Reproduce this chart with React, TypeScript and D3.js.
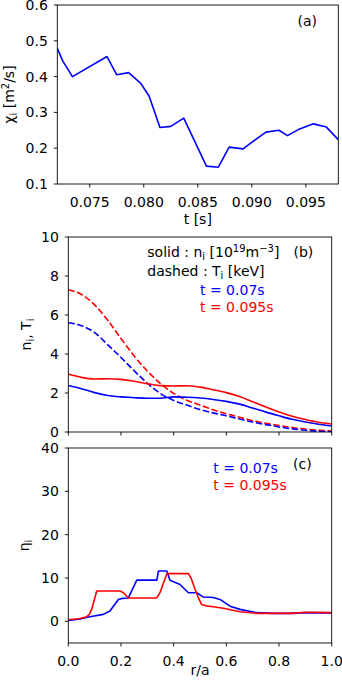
import React from 'react';
import * as d3 from 'd3';

// panel (a): chi_i vs time
const tA = [0.072, 0.0725, 0.0734, 0.0766, 0.0775, 0.0786, 0.0797, 0.0805, 0.0815, 0.0825, 0.0837, 0.0858, 0.0869, 0.0879, 0.0892, 0.0898, 0.0913, 0.0925, 0.0933, 0.0943, 0.0957, 0.0969, 0.098];
const chiA = [0.479, 0.444, 0.4, 0.456, 0.405, 0.411, 0.382, 0.345, 0.258, 0.261, 0.284, 0.15, 0.147, 0.203, 0.198, 0.212, 0.245, 0.25, 0.235, 0.252, 0.268, 0.259, 0.224];

// panel (b): profiles vs r/a
const rB = [0, 0.05, 0.1, 0.15, 0.2, 0.25, 0.3, 0.35, 0.4, 0.45, 0.5, 0.55, 0.6, 0.65, 0.7, 0.75, 0.8, 0.85, 0.9, 0.95, 1.0];
const niEarly = [2.38, 2.22, 2.02, 1.87, 1.8, 1.76, 1.73, 1.73, 1.8, 1.78, 1.74, 1.67, 1.57, 1.43, 1.23, 1.02, 0.83, 0.65, 0.51, 0.4, 0.31];
const niLate = [2.97, 2.8, 2.72, 2.73, 2.7, 2.6, 2.48, 2.38, 2.36, 2.37, 2.3, 2.17, 2.02, 1.82, 1.55, 1.28, 1.03, 0.81, 0.64, 0.5, 0.41];
const tiEarly = [5.6, 5.45, 5.1, 4.47, 3.82, 3.14, 2.5, 1.97, 1.62, 1.38, 1.15, 0.98, 0.83, 0.67, 0.51, 0.38, 0.26, 0.16, 0.09, 0.04, 0.01];
const tiLate = [7.3, 7.05, 6.52, 5.72, 4.8, 3.9, 3.13, 2.48, 1.98, 1.63, 1.38, 1.14, 0.93, 0.76, 0.58, 0.45, 0.33, 0.23, 0.15, 0.09, 0.05];

// panel (c): eta_i vs r/a
const rEtaEarly = [0, 0.04, 0.082, 0.133, 0.158, 0.19, 0.205, 0.228, 0.26, 0.336, 0.342, 0.374, 0.386, 0.424, 0.456, 0.487, 0.513, 0.55, 0.576, 0.614, 0.652, 0.715, 0.78, 0.85, 0.9, 1.0];
const etaEarly = [0.2, 0.5, 1.07, 1.6, 2.4, 5.06, 5.3, 5.4, 9.5, 9.5, 11.6, 11.6, 9.5, 8.5, 6.6, 6.6, 5.6, 5.5, 5.06, 3.5, 2.76, 2.0, 1.84, 1.84, 2.0, 1.95];
const rEtaLate = [0, 0.04, 0.07, 0.08, 0.089, 0.108, 0.196, 0.21, 0.228, 0.336, 0.348, 0.374, 0.456, 0.466, 0.481, 0.494, 0.506, 0.53, 0.55, 0.589, 0.652, 0.715, 0.842, 0.905, 1.0];
const etaLate = [0.38, 0.6, 1.07, 1.6, 2.8, 7.0, 7.0, 6.6, 5.4, 5.4, 6.6, 11.0, 11.0, 10.0, 7.4, 5.4, 3.9, 3.5, 3.37, 3.0, 2.2, 1.84, 1.84, 2.1, 2.0];

const ticksTA = [0.075, 0.08, 0.085, 0.09, 0.095];
const ticksChi = [0.1, 0.2, 0.3, 0.4, 0.5, 0.6];
const ticksR = [0, 0.2, 0.4, 0.6, 0.8, 1.0];
const ticksNT = [0, 2, 4, 6, 8, 10];
const ticksEta = [0, 10, 20, 30, 40];

const FONT = '"DejaVu Sans", sans-serif';
const FS = 14;
const BLUE = '#0000ff';
const RED = '#ff0000';

type Frame = { left: number; right: number; top: number; bottom: number };

const frA: Frame = { left: 57.3, right: 338.3, top: 5, bottom: 184 };
const frB: Frame = { left: 68.3, right: 331.7, top: 237, bottom: 432 };
const frC: Frame = { left: 68.3, right: 331.7, top: 448, bottom: 643 };

const Axes = ({ fr, x, y, xt, yt, xfmt, yfmt }: any) => (
  <g fontFamily={FONT} fontSize={FS} fill="#000">
    <rect x={fr.left} y={fr.top} width={fr.right - fr.left} height={fr.bottom - fr.top} fill="none" stroke="#000" strokeWidth={0.9} />
    {xt.map((v: number) => (
      <g key={'x' + v}>
        <line x1={x(v)} x2={x(v)} y1={fr.bottom} y2={fr.bottom + 3.5} stroke="#000" strokeWidth={0.9} />
        {xfmt && (
          <text x={x(v)} y={fr.bottom + 22.5} textAnchor="middle">{xfmt(v)}</text>
        )}
      </g>
    ))}
    {yt.map((v: number) => (
      <g key={'y' + v}>
        <line x1={fr.left - 3.5} x2={fr.left} y1={y(v)} y2={y(v)} stroke="#000" strokeWidth={0.9} />
        <text x={fr.left - 9.5} y={y(v)} dy="0.36em" textAnchor="end">{yfmt(v)}</text>
      </g>
    ))}
  </g>
);

const App = () => {
  const xA = d3.scaleLinear().domain([0.072, 0.098]).range([frA.left, frA.right]);
  const yA = d3.scaleLinear().domain([0.1, 0.6]).range([frA.bottom, frA.top]);
  const xR = d3.scaleLinear().domain([0, 1]).range([frB.left, frB.right]);
  const yB = d3.scaleLinear().domain([0, 10]).range([frB.bottom, frB.top]);
  const yC = d3.scaleLinear().domain([-5, 40]).range([frC.bottom, frC.top]);

  const lineA = d3.line<number>().x((_, i) => xA(tA[i])).y((d) => yA(d));
  const smoothB = d3.line<number>().x((_, i) => xR(rB[i])).y((d) => yB(d)).curve(d3.curveMonotoneX);
  const lineC = (rs: number[]) => d3.line<number>().x((_, i) => xR(rs[i])).y((d) => yC(d));

  const dash = '6.5,2.6';
  const sw = 1.6;

  return (
    <svg width={342} height={685} style={{ position: 'absolute', left: 0, top: 0, background: '#fff' }}>
      <defs>
        <clipPath id="clipA"><rect x={frA.left} y={frA.top} width={frA.right - frA.left} height={frA.bottom - frA.top} /></clipPath>
        <clipPath id="clipB"><rect x={frB.left} y={frB.top} width={frB.right - frB.left} height={frB.bottom - frB.top} /></clipPath>
        <clipPath id="clipC"><rect x={frC.left} y={frC.top} width={frC.right - frC.left} height={frC.bottom - frC.top} /></clipPath>
      </defs>

      {/* (a) */}
      <g clipPath="url(#clipA)">
        <path d={lineA(chiA) || ''} fill="none" stroke={BLUE} strokeWidth={sw} strokeLinejoin="round" />
      </g>
      <Axes fr={frA} x={xA} y={yA} xt={ticksTA} yt={ticksChi} xfmt={d3.format('.3f')} yfmt={d3.format('.1f')} />
      <g fontFamily={FONT} fontSize={FS}>
        <text x={317} y={26} textAnchor="end">(a)</text>
        <text x={197.8} y={224} textAnchor="middle">t [s]</text>
        <text transform={`translate(14,${(frA.top + frA.bottom) / 2}) rotate(-90)`} textAnchor="middle">
          χ<tspan fontSize={10} dy={3}>i</tspan><tspan dy={-3}> [m</tspan><tspan fontSize={10} dy={-5}>2</tspan><tspan dy={5}>/s]</tspan>
        </text>
      </g>

      {/* (b) */}
      <g clipPath="url(#clipB)" fill="none" strokeWidth={sw}>
        <path d={smoothB(tiLate) || ''} stroke={RED} strokeDasharray={dash} />
        <path d={smoothB(tiEarly) || ''} stroke={BLUE} strokeDasharray={dash} />
        <path d={smoothB(niEarly) || ''} stroke={BLUE} />
        <path d={smoothB(niLate) || ''} stroke={RED} />
      </g>
      <Axes fr={frB} x={xR} y={yB} xt={ticksR} yt={ticksNT} xfmt={null} yfmt={d3.format('d')} />
      <g fontFamily={FONT} fontSize={FS}>
        <text x={147.3} y={256.5}>
          solid : n<tspan fontSize={10} dy={3}>i</tspan><tspan dy={-3}> [10</tspan><tspan fontSize={10} dy={-5}>19</tspan><tspan dy={5}>m</tspan><tspan fontSize={10} dy={-5}>−3</tspan><tspan dy={5}>]</tspan>
        </text>
        <text x={313.3} y={256.5} textAnchor="end">(b)</text>
        <text x={147.3} y={276}>
          dashed : T<tspan fontSize={10} dy={3}>i</tspan><tspan dy={-3}> [keV]</tspan>
        </text>
        <text x={200} y={295} fill={BLUE}>t = 0.07s</text>
        <text x={200} y={311.7} fill={RED}>t = 0.095s</text>
        <text transform={`translate(31,${(frB.top + frB.bottom) / 2}) rotate(-90)`} textAnchor="middle">
          n<tspan fontSize={10} dy={3}>i</tspan><tspan dy={-3}>, T</tspan><tspan fontSize={10} dy={3}>i</tspan>
        </text>
      </g>

      {/* (c) */}
      <g clipPath="url(#clipC)" fill="none" strokeWidth={sw}>
        <path d={lineC(rEtaEarly)(etaEarly) || ''} stroke={BLUE} strokeLinejoin="round" />
        <path d={lineC(rEtaLate)(etaLate) || ''} stroke={RED} strokeLinejoin="round" />
      </g>
      <Axes fr={frC} x={xR} y={yC} xt={ticksR} yt={ticksEta} xfmt={d3.format('.1f')} yfmt={d3.format('d')} />
      <g fontFamily={FONT} fontSize={FS}>
        <text x={213.3} y={473.3} fill={BLUE}>t = 0.07s</text>
        <text x={213.3} y={490} fill={RED}>t = 0.095s</text>
        <text x={311.7} y={469} textAnchor="end">(c)</text>
        <text x={200} y={674.5} textAnchor="middle">r/a</text>
        <text transform={`translate(29,${(frC.top + frC.bottom) / 2}) rotate(-90)`} textAnchor="middle">
          η<tspan fontSize={10} dy={3}>i</tspan>
        </text>
      </g>
    </svg>
  );
};

export default App;
